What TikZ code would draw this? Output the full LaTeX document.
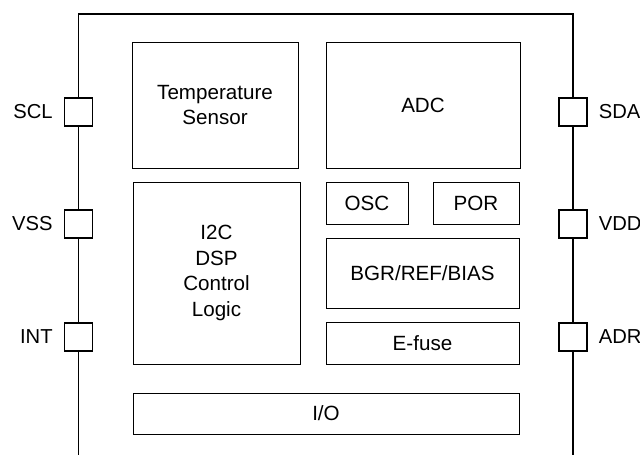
\documentclass[tikz,border=0pt]{standalone}
\usepackage{fontspec}
\setmainfont{Liberation Sans}
\usetikzlibrary{positioning}
\tikzstyle{block} = [
  draw,
  rectangle,
  line width=0.8pt,
  align=center,
  inner sep=0pt,
  font=\fontsize{20.6}{25.7}\selectfont,
]
\tikzstyle{pad} = [
  draw,
  rectangle,
  line width=1.4pt,
  minimum size=28pt,
  inner sep=0pt,
]
\tikzstyle{pinname} = [
  inner sep=0pt,
  font=\fontsize{20.2}{24}\selectfont,
]
\tikzstyle{rim} = [
  line width=1.4pt,
]

\begin{document}
\begin{tikzpicture}[
    x=1pt,
    y=-1pt,
  ]
  \useasboundingbox (0,0) rectangle (640,455);
  % blocks inside the chip
  \node[
    block,
    minimum width=166pt,
    minimum height=126pt,
  ](temp) at (215,105) {Temperature\\Sensor};
  \node[
    block,
    minimum width=194pt,
    minimum height=126pt,
  ](adc) at (423,105) {ADC};
  \node[
    block,
    minimum width=167pt,
    minimum height=182pt,
  ](logic) at (216.5,273) {I2C\\DSP\\Control\\Logic};
  \node[
    block,
    minimum width=82pt,
    minimum height=42pt,
  ](osc) at (367,203) {OSC};
  \node[
    block,
    minimum width=86pt,
    minimum height=42pt,
  ](por) at (476,203) {POR};
  \node[
    block,
    minimum width=193pt,
    minimum height=70pt,
  ](bgr) at (422.5,273) {BGR/REF/BIAS};
  \node[
    block,
    minimum width=193pt,
    minimum height=42pt,
  ](efuse) at (422.5,343) {E-fuse};
  \node[
    block,
    minimum width=386pt,
    minimum height=41pt,
  ](io) at (326,413.5) {I/O};
  % pins
  \node[pad](scl) at (78.5,112) {};
  \node[pad](vss) at (78.5,224) {};
  \node[pad](int) at (78.5,337) {};
  \node[pad](sda) at (573,112) {};
  \node[pad](vdd) at (573,224) {};
  \node[pad](adr) at (573,337) {};
  \node[pinname, left=11pt of scl](sclname){SCL};
  \node[pinname, left=11pt of vss](vssname){VSS};
  \node[pinname, left=11pt of int](intname){INT};
  \node[pinname, right=11pt of sda](sdaname){SDA};
  \node[pinname, right=11pt of vdd](vddname){VDD};
  \node[pinname, right=11pt of adr](adrname){ADR};
  % outline
  \coordinate (lbot) at (78.5,455);
  \coordinate (ltop) at (78.5,14);
  \coordinate (rtop) at (573,14);
  \coordinate (rbot) at (573,455);
  \draw[rim] (lbot) -- (int.south) (int.north) -- (vss.south)
    (vss.north) -- (scl.south) (scl.north) -- (ltop) -- (rtop)
    -- (sda.north) (sda.south) -- (vdd.north)
    (vdd.south) -- (adr.north) (adr.south) -- (rbot);
\end{tikzpicture}
\end{document}
